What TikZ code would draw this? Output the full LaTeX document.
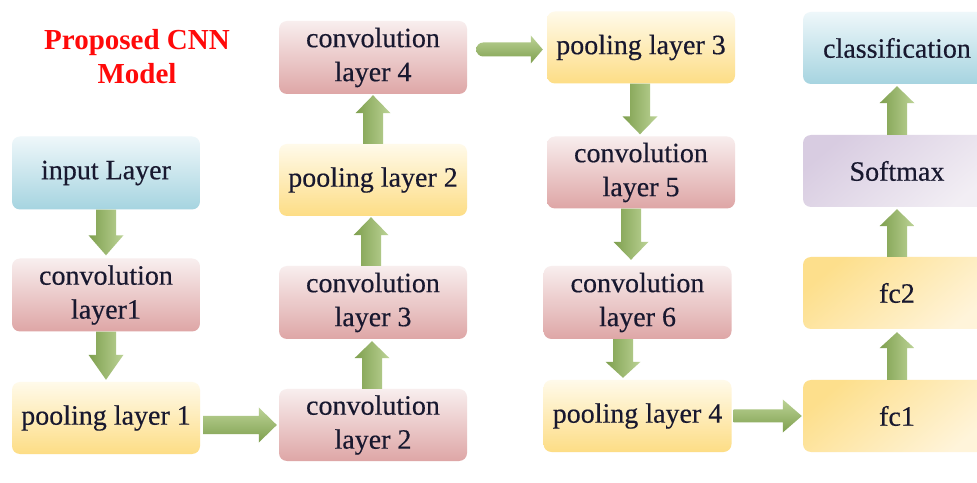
\documentclass[tikz,border=0pt]{standalone}
\usepackage{fontspec}
\setmainfont{Liberation Serif}
\newfontfamily\boxfont{Liberation Serif}[FakeBold=0.4]
\usetikzlibrary{calc}

\definecolor{txtcol}{HTML}{18182F}
\definecolor{titlered}{HTML}{FF0A0A}
\definecolor{blueTop}{HTML}{EEF7FA}
\definecolor{blueBot}{HTML}{A6D4E0}
\definecolor{redTop}{HTML}{F8EEEE}
\definecolor{redBot}{HTML}{DEA6A6}
\definecolor{yelTop}{HTML}{FFFAEA}
\definecolor{yelBot}{HTML}{FDDD85}
\definecolor{fcMain}{HTML}{FDDF8C}
\definecolor{fcLight}{HTML}{FFF4DA}
\definecolor{purMain}{HTML}{D8CCE1}
\definecolor{purLight}{HTML}{F2EEF4}
\definecolor{arrDark}{HTML}{7E9F4E}
\definecolor{arrLight}{HTML}{BCD396}

% vertical block arrow: tail point, tip point, shaft half width, head half width, head length
\newcommand\vblock[5]{%
  \path[varrow] let \p1=(#1), \p2=(#2), \n1={sign(\y2-\y1)}, \n2={\y2-(\n1)*#5} in
    (\x1-#3,\y1) -- (\x1-#3,\n2) -- (\x1-#4,\n2) -- (\x1,\y2) -- (\x1+#4,\n2)
    -- (\x1+#3,\n2) -- (\x1+#3,\y1) -- cycle;}
% horizontal block arrow, same arguments
\newcommand\hblock[5]{%
  \path[harrow] let \p1=(#1), \p2=(#2), \n1={sign(\x2-\x1)}, \n2={\x2-(\n1)*#5} in
    (\x1,\y1-#3) -- (\n2,\y1-#3) -- (\n2,\y1-#4) -- (\x2,\y1) -- (\n2,\y1+#4)
    -- (\n2,\y1+#3) -- (\x1,\y1+#3) -- cycle;}

\begin{document}
\begin{tikzpicture}[x=1pt,y=1pt,
  box/.style={rounded corners=8pt, inner sep=0pt, align=center, text=txtcol,
    font=\fontsize{28}{34}\boxfont, minimum width=188pt, minimum height=73pt},
  bluebox/.style={box, top color=blueTop, bottom color=blueBot},
  convbox/.style={box, top color=redTop, bottom color=redBot},
  poolbox/.style={box, top color=yelTop, bottom color=yelBot},
  fcbox/.style={box, top color=fcMain, bottom color=fcLight, shading angle=40},
  softbox/.style={box, top color=purMain, bottom color=purLight, shading angle=40},
  titletext/.style={align=center, text=titlered, font=\fontsize{29}{34}\selectfont\rmfamily\bfseries},
  varrow/.style={left color=arrDark, right color=arrLight},
  harrow/.style={top color=arrLight, bottom color=arrDark},
]
\clip (0,0) rectangle (977,482);
\fill[white] (0,0) rectangle (977,482);

\node[titletext] (title) at (137,425) {Proposed CNN\\Model};

% first column
\node[bluebox] (input) at (106,309) {input Layer};
\node[convbox] (conv1) at (106,187) {convolution\\layer1};
\node[poolbox, minimum height=72pt] (pool1) at (106,64) {pooling layer 1};

% second column
\node[convbox] (conv4) at (373,424.5) {convolution\\layer 4};
\node[poolbox, minimum height=72pt] (pool2) at (373,302) {pooling layer 2};
\node[convbox] (conv3) at (373,179.5) {convolution\\layer 3};
\node[convbox, minimum height=72pt] (conv2) at (373,57) {convolution\\layer 2};

% third column
\node[poolbox, minimum height=72pt] (pool3) at (641,434.5) {pooling layer 3};
\node[convbox, minimum height=72pt] (conv5) at (641,309.5) {convolution\\layer 5};
\node[convbox] (conv6) at (637.5,179.5) {convolution\\layer 6};
\node[poolbox, minimum height=72pt] (pool4) at (637.5,66) {pooling layer 4};

% fourth column
\node[bluebox, minimum height=72pt] (class) at (897,434) {classification};
\node[softbox, minimum height=72pt] (soft) at (897,311) {Softmax};
\node[fcbox, minimum height=72pt] (fc2) at (897,189) {fc2};
\node[fcbox, minimum height=72pt] (fc1) at (897,66) {fc1};

% vertical connectors
\vblock{input.south}{$(conv1.north)+(0,3pt)$}{10pt}{17.5pt}{20pt}
\vblock{conv1.south}{$(pool1.north)+(0,2pt)$}{10pt}{17.5pt}{25pt}
\vblock{$(conv2.north)+(-1pt,0)$}{$(conv3.south)+(0,-2pt)$}{10pt}{17.5pt}{17pt}
\vblock{$(conv3.north)+(-2pt,0)$}{$(pool2.south)+(0,-1pt)$}{10pt}{17.5pt}{18pt}
\vblock{pool2.north}{$(conv4.south)+(0,-1pt)$}{10pt}{17.5pt}{18pt}
\vblock{$(pool3.south)+(-1pt,0)$}{$(conv5.north)+(0,2pt)$}{10pt}{17.5pt}{18pt}
\vblock{$(conv5.south)+(-10pt,0)$}{$(conv6.north)+(0,6pt)$}{10pt}{17.5pt}{18pt}
\vblock{$(conv6.south)+(-14.5pt,0)$}{$(pool4.north)+(0,2pt)$}{10pt}{17.5pt}{16pt}
\vblock{fc1.north}{$(fc2.south)+(0,-3pt)$}{10pt}{17.5pt}{16pt}
\vblock{fc2.north}{$(soft.south)+(0,-2pt)$}{10pt}{17.5pt}{17pt}
\vblock{soft.north}{$(class.south)+(0,-2pt)$}{10pt}{17.5pt}{17pt}

% horizontal connectors
\hblock{$(pool1.east |- conv2.west)+(3pt,0)$}{$(conv2.west)+(-2pt,0)$}{9pt}{17.5pt}{18pt}
\hblock{$(pool4.east)+(2pt,0)$}{$(fc1.west)+(-1pt,0)$}{6.5pt}{16.5pt}{19pt}
% round-tailed arrow from the fourth convolution to the third pooling layer
\path[harrow] let \p1=($(conv4.east |- pool3.west)+(9pt,-2pt)$),
                  \p2=($(pool3.west)+(-4pt,-2pt)$) in
  (\x1+7pt,\y1-7pt) -- (\x2-12pt,\y1-7pt) -- (\x2-12pt,\y1-14pt) -- (\x2,\y1)
  -- (\x2-12pt,\y1+14pt) -- (\x2-12pt,\y1+7pt) -- (\x1+7pt,\y1+7pt)
  arc[start angle=90, end angle=270, radius=7pt] -- cycle;
\end{tikzpicture}
\end{document}
